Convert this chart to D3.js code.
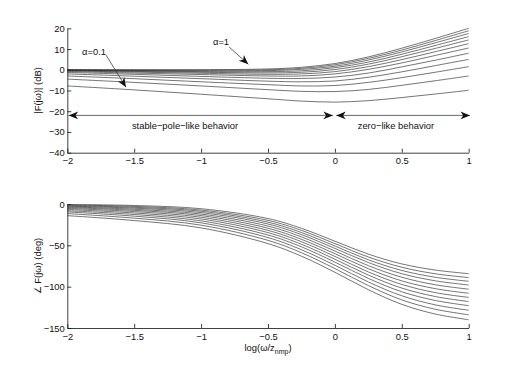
<!DOCTYPE html>
<html>
<head>
<meta charset="utf-8">
<script src="https://cdn.jsdelivr.net/npm/d3@7"></script>
<style>
  body { margin: 0; background: #fff; }
  svg text { font-family: "Liberation Sans", Arial, Helvetica, sans-serif; font-size: 9.4px; fill: #111; }
  .axis path, .axis line { stroke: #111; stroke-width: 0.8; }
  .curve { fill: none; stroke: #2a2a2a; stroke-width: 0.65; }
</style>
</head>
<body>
<div id="chart"></div>
<script>
// log10(w/z_nmp) sample points
var xVals = [-2, -1.5, -1, -0.5, -0.25, 0, 0.25, 0.5, 0.75, 1];

// |F(jw)| in dB, bottom curve (alpha=0.1) first, top curve (alpha=1) last
var magDb = [
  [-7.8, -9.7, -11.8, -14.0, -15.1, -15.6, -14.9, -13.4, -11.7, -9.9],
  [-4.5, -6.1, -7.8, -9.6, -10.4, -10.5, -9.5, -7.5, -5.3, -3.0],
  [-3.0, -4.3, -5.8, -7.2, -7.8, -7.6, -6.1, -3.8, -1.2, 1.5],
  [-2.0, -3.1, -4.3, -5.5, -5.8, -5.4, -3.6, -1.0, 2.0, 5.0],
  [-1.3, -2.2, -3.2, -4.1, -4.2, -3.5, -1.6, 1.4, 4.6, 8.0],
  [-0.8, -1.6, -2.3, -3.0, -3.0, -2.0, 0.2, 3.3, 6.9, 10.5],
  [-0.5, -1.1, -1.7, -2.2, -2.0, -0.9, 1.5, 4.9, 8.7, 12.6],
  [-0.3, -0.8, -1.2, -1.5, -1.2, 0.1, 2.7, 6.3, 10.3, 14.4],
  [-0.2, -0.5, -0.9, -0.9, -0.5, 1.0, 3.7, 7.5, 11.7, 16.0],
  [-0.1, -0.3, -0.5, -0.4, 0.2, 1.7, 4.7, 8.6, 13.0, 17.5],
  [-0.05, -0.15, -0.2, 0.0, 0.7, 2.4, 5.5, 9.5, 14.1, 18.8],
  [0, 0, 0.04, 0.4, 1.2, 3.0, 6.2, 10.4, 15.1, 20.0]
];

// angle F(jw) in degrees, same order
var phaseDeg = [
  [-14.1, -20.0, -28.9, -47.9, -63.1, -82.6, -103.7, -121.4, -133.1, -140.0],
  [-11.6, -17.1, -25.6, -44.0, -58.9, -78.1, -98.7, -116.0, -127.3, -134.0],
  [-9.6, -14.7, -22.8, -40.6, -55.3, -74.1, -94.3, -111.0, -122.0, -128.5],
  [-8.1, -12.7, -20.4, -37.5, -51.8, -70.3, -90.0, -106.2, -116.7, -123.0],
  [-6.6, -10.9, -18.1, -34.6, -48.7, -66.8, -86.0, -101.7, -111.9, -118.0],
  [-5.4, -9.2, -16.0, -31.9, -45.6, -63.4, -82.2, -97.3, -107.2, -113.0],
  [-4.3, -7.7, -14.0, -29.3, -42.7, -60.1, -78.3, -93.0, -102.4, -108.0],
  [-3.4, -6.4, -12.2, -26.7, -39.8, -56.9, -74.6, -88.6, -97.7, -103.0],
  [-2.6, -5.1, -10.4, -24.2, -37.0, -53.7, -70.8, -84.3, -92.9, -98.0],
  [-1.9, -4.0, -8.8, -22.0, -34.5, -50.8, -67.5, -80.4, -88.6, -93.5],
  [-1.2, -2.9, -7.3, -19.8, -31.9, -47.9, -64.1, -76.5, -84.4, -89.0],
  [-0.6, -1.8, -5.7, -17.6, -29.4, -45.0, -60.6, -72.5, -79.9, -84.3]
];

var xTicks = [-2, -1.5, -1, -0.5, 0, 0.5, 1];
var magTicks = [20, 10, 0, -10, -20, -30, -40];
var phaseTicks = [0, -50, -100, -150];

var svg = d3.select("#chart").append("svg")
    .attr("width", 518)
    .attr("height", 371);

// scales
var xScale = d3.scaleLinear().domain([-2, 1]).range([67.3, 468.7]);
var yMag = d3.scaleLinear().domain([-40, 20]).range([152.7, 28.3]);
var yPh = d3.scaleLinear().domain([-150, 0]).range([328, 204]);

function fmt(d) { return d3.format("")(d); }

// axes (matlab style: ticks pointing inward, no box)
svg.append("g").attr("class", "axis")
    .attr("transform", "translate(0," + yMag(-40) + ")")
    .call(d3.axisBottom(xScale).tickValues(xTicks).tickFormat(fmt).tickSizeInner(-4).tickSizeOuter(0).tickPadding(4.5));
svg.append("g").attr("class", "axis")
    .attr("transform", "translate(" + xScale(-2) + ",0)")
    .call(d3.axisLeft(yMag).tickValues(magTicks).tickFormat(fmt).tickSizeInner(-4).tickSizeOuter(0).tickPadding(2.5));
svg.append("g").attr("class", "axis")
    .attr("transform", "translate(0," + yPh(-150) + ")")
    .call(d3.axisBottom(xScale).tickValues(xTicks).tickFormat(fmt).tickSizeInner(-4).tickSizeOuter(0).tickPadding(5));
svg.append("g").attr("class", "axis")
    .attr("transform", "translate(" + xScale(-2) + ",0)")
    .call(d3.axisLeft(yPh).tickValues(phaseTicks).tickFormat(fmt).tickSizeInner(-4).tickSizeOuter(0).tickPadding(2.5));
svg.selectAll(".axis .domain").attr("fill", "none");

// curves
var lineMag = d3.line()
    .x(function(d, i) { return xScale(xVals[i]); })
    .y(function(d) { return yMag(d); })
    .curve(d3.curveCatmullRom.alpha(0.5));
var linePh = d3.line()
    .x(function(d, i) { return xScale(xVals[i]); })
    .y(function(d) { return yPh(d); })
    .curve(d3.curveCatmullRom.alpha(0.5));

svg.selectAll(".mag").data(magDb).enter().append("path")
    .attr("class", "curve mag").attr("d", lineMag);
svg.selectAll(".ph").data(phaseDeg).enter().append("path")
    .attr("class", "curve ph").attr("d", linePh);

// axis labels
svg.append("text")
    .attr("transform", "translate(41," + yMag(-10) + ") rotate(-90)")
    .attr("text-anchor", "middle")
    .text("|F(jω)| (dB)");
svg.append("text")
    .attr("transform", "translate(41," + yPh(-75) + ") rotate(-90)")
    .attr("text-anchor", "middle")
    .text("∠ F(jω) (deg)");
var xl = svg.append("text")
    .attr("x", xScale(-0.5)).attr("y", 351)
    .attr("text-anchor", "middle");
xl.append("tspan").text("log(ω/z");
xl.append("tspan").attr("dy", 3).style("font-size", "7px").text("nmp");
xl.append("tspan").attr("dy", -3).text(")");

// arrows / annotations
function arrowHead(x, y, ang) {
  svg.append("path")
    .attr("d", "M0,0 L-9.5,-3.8 L-6.8,0 L-9.5,3.8 Z")
    .attr("transform", "translate(" + x + "," + y + ") rotate(" + ang + ")")
    .attr("fill", "#111");
}
function arrow(x1, y1, x2, y2, both) {
  var px1 = xScale(x1), py1 = yMag(y1), px2 = xScale(x2), py2 = yMag(y2);
  svg.append("line")
    .attr("x1", px1).attr("y1", py1).attr("x2", px2).attr("y2", py2)
    .attr("stroke", "#333").attr("stroke-width", 0.75);
  var ang = Math.atan2(py2 - py1, px2 - px1) * 180 / Math.PI;
  arrowHead(px2, py2, ang);
  if (both) arrowHead(px1, py1, ang + 180);
}

arrow(-1.99, -22, -0.015, -22, true);
arrow(0.01, -22, 1.01, -22, true);
arrow(-1.711, 7.1, -1.561, -8.4, false);
arrow(-0.791, 11.0, -0.647, 2.65, false);

svg.append("text").attr("x", xScale(-1.80)).attr("y", yMag(7.3))
    .attr("text-anchor", "middle").text("α=0.1");
svg.append("text").attr("x", xScale(-0.851)).attr("y", yMag(12))
    .attr("text-anchor", "middle").text("α=1");
svg.append("text").attr("x", xScale(-1.12)).attr("y", yMag(-28.6))
    .attr("text-anchor", "middle").text("stable−pole−like behavior");
svg.append("text").attr("x", xScale(0.456)).attr("y", yMag(-28.6))
    .attr("text-anchor", "middle").text("zero−like behavior");
</script>
</body>
</html>
